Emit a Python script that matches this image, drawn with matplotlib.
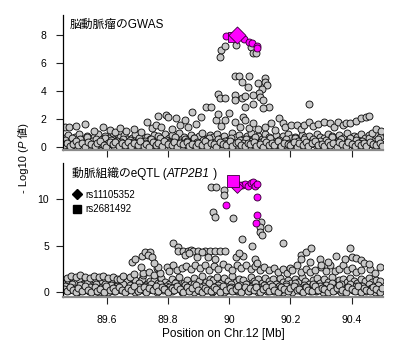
import numpy as np
import matplotlib.pyplot as plt
from matplotlib.lines import Line2D
from matplotlib.transforms import IdentityTransform

plt.rcParams['font.family'] = ['Liberation Sans', 'Noto Sans CJK JP']

# SNP positions on chr12 (Mb); both panels share the same markers
pos_a = [89.461, 89.470, 89.482, 89.489, 89.501, 89.508, 89.519, 89.531, 89.540, 89.548,
         89.561, 89.569, 89.580, 89.592, 89.599, 89.611, 89.620, 89.628, 89.641, 89.650,
         89.659, 89.671, 89.679, 89.690, 89.702, 89.709, 89.721, 89.730, 89.738, 89.751,
         89.760, 89.768, 89.781, 89.789, 89.800, 89.812, 89.819, 89.831, 89.840, 89.849,
         89.861, 89.869, 89.880, 89.892, 89.899, 89.910, 89.921, 89.929, 89.941, 89.950,
         89.958, 89.971, 89.979, 89.990, 90.002, 90.009, 90.021, 90.030, 90.038, 90.051,
         90.060, 90.068, 90.081, 90.089, 90.100, 90.112, 90.119, 90.131, 90.140, 90.148,
         90.161, 90.169, 90.180, 90.192, 90.199, 90.211, 90.220, 90.228, 90.241, 90.250,
         90.258, 90.271, 90.279, 90.290, 90.302, 90.309, 90.321, 90.330, 90.338, 90.351,
         90.360, 90.368, 90.381, 90.389, 90.400, 90.412, 90.419, 90.431, 90.440, 90.448,
         90.461, 90.469, 90.480, 90.492, 90.499]
pos_b = [89.466, 89.485, 89.505, 89.526, 89.545, 89.566, 89.585, 89.604, 89.625, 89.646,
         89.665, 89.684, 89.705, 89.725, 89.744, 89.765, 89.786, 89.805, 89.824, 89.845,
         89.866, 89.885, 89.904, 89.925, 89.946, 89.965, 89.984, 90.005, 90.025, 90.044,
         90.065, 90.086, 90.105, 90.124, 90.145, 90.166, 90.185, 90.204, 90.225, 90.246,
         90.265, 90.284, 90.305, 90.325, 90.344, 90.365, 90.386, 90.405, 90.424, 90.445,
         90.466, 90.485]
pos_c = [89.463, 89.474, 89.487, 89.497, 89.511, 89.523, 89.536, 89.547, 89.559, 89.572,
         89.584, 89.596, 89.607, 89.621, 89.633, 89.644, 89.657, 89.668, 89.682, 89.693,
         89.706, 89.717, 89.731, 89.742, 89.754, 89.767, 89.778, 89.791, 89.803, 89.815,
         89.827, 89.838, 89.852, 89.863, 89.876, 89.887, 89.901, 89.913, 89.924, 89.937,
         89.948, 89.961, 89.973, 89.984, 89.997, 90.008, 90.022, 90.033, 90.046, 90.057,
         90.071, 90.082, 90.094, 90.106, 90.118, 90.129, 90.143, 90.154, 90.166, 90.177,
         90.191, 90.202, 90.214, 90.226, 90.238, 90.249, 90.262, 90.274, 90.286, 90.297,
         90.311, 90.322, 90.335, 90.346, 90.358, 90.370, 90.383, 90.394, 90.407, 90.418,
         90.431, 90.443, 90.455, 90.467, 90.478, 90.491]
pos_d = [89.465, 89.476, 89.486, 89.495, 89.504, 89.514, 89.525, 89.535, 89.544, 89.554,
         89.565, 89.575, 89.584, 89.595, 89.605, 89.615, 89.624, 89.634, 89.645, 89.655,
         89.664, 89.675, 89.685, 89.694, 89.705, 89.715, 89.725, 89.735, 89.744, 89.755,
         89.765, 89.774, 89.785, 89.795, 89.805, 89.815, 89.825, 89.834, 89.845, 89.855,
         89.864, 89.875, 89.885, 89.895, 89.905, 89.915, 89.925, 89.934, 89.945, 89.955,
         89.964, 89.975, 89.985, 89.995, 90.005, 90.015, 90.025, 90.034, 90.045, 90.055,
         90.064, 90.075, 90.085, 90.095, 90.105, 90.115, 90.125, 90.134, 90.145, 90.155,
         90.164, 90.175, 90.185, 90.195, 90.205, 90.215, 90.225, 90.234, 90.245, 90.255,
         90.264, 90.275, 90.285, 90.295, 90.305, 90.315, 90.325, 90.334, 90.345, 90.355,
         90.364, 90.375, 90.385, 90.395, 90.405, 90.415, 90.425, 90.434, 90.445, 90.455,
         90.464, 90.475, 90.485, 90.495]

# -log10(P), cerebral aneurysm GWAS
gwas_a = [0.12, 0.31, 0.05, 0.22, 0.40, 0.15, 0.28, 0.03, 0.36, 0.18,
          0.08, 0.26, 0.43, 0.14, 0.02, 0.33, 0.20, 0.38, 0.07, 0.25,
          0.11, 0.35, 0.04, 0.29, 0.17, 0.41, 0.09, 0.24, 0.01, 0.37,
          0.16, 0.30, 0.06, 0.42, 0.21, 0.13, 0.34, 0.03, 0.27, 0.19,
          0.39, 0.10, 0.23, 0.05, 0.32, 0.15, 0.44, 0.08, 0.28, 0.18,
          0.02, 0.36, 0.21, 0.12, 0.40, 0.07, 0.26, 0.33, 0.14, 0.04,
          0.30, 0.19, 0.38, 0.09, 0.24, 0.02, 0.35, 0.16, 0.27, 0.11,
          0.42, 0.06, 0.31, 0.20, 0.13, 0.37, 0.03, 0.25, 0.17, 0.34,
          0.08, 0.29, 0.41, 0.12, 0.22, 0.05, 0.36, 0.15, 0.27, 0.01,
          0.33, 0.18, 0.10, 0.39, 0.23, 0.07, 0.30, 0.14, 0.26, 0.04,
          0.35, 0.19, 0.11, 0.28, 0.06]
gwas_b = [0.20, 0.06, 0.30, 0.14, 0.24, 0.02, 0.18, 0.27, 0.09, 0.33,
          0.15, 0.04, 0.22, 0.29, 0.11, 0.19, 0.01, 0.26, 0.13, 0.31,
          0.07, 0.23, 0.16, 0.34, 0.03, 0.21, 0.28, 0.10, 0.17, 0.25,
          0.05, 0.32, 0.12, 0.20, 0.27, 0.08, 0.15, 0.30, 0.02, 0.22,
          0.18, 0.26, 0.09, 0.13, 0.31, 0.04, 0.24, 0.16, 0.29, 0.07,
          0.21, 0.12]
gwas_c = [0.62, 0.85, 0.51, 0.74, 0.95, 0.58, 0.80, 0.47, 0.69, 0.90,
          0.55, 0.77, 0.64, 0.98, 0.49, 0.72, 0.86, 0.57, 0.66, 0.92,
          0.53, 0.81, 0.70, 0.60, 0.88, 0.75, 0.50, 0.96, 0.67, 0.83,
          0.59, 0.99, 0.73, 0.54, 0.89, 0.65, 0.78, 1.02, 0.56, 0.84,
          0.70, 0.93, 0.61, 0.79, 0.52, 0.97, 0.68, 0.87, 0.58, 0.76,
          1.00, 0.63, 0.82, 0.55, 0.91, 0.71, 0.60, 0.85, 0.48, 0.78,
          0.94, 0.66, 0.74, 0.57, 0.88, 0.69, 0.81, 0.53, 0.96, 0.72,
          0.62, 0.90, 0.77, 0.50, 0.86, 0.67, 0.98, 0.59, 0.80, 0.73,
          0.92, 0.64, 0.87, 0.55, 0.83, 0.70]
gwas_d = [0.48, 0.15, 0.62, 0.30, 0.05, 0.55, 0.22, 0.68, 0.10, 0.40,
          0.58, 0.02, 0.35, 0.65, 0.18, 0.50, 0.08, 0.44, 0.27, 0.60,
          0.12, 0.52, 0.38, 0.03, 0.66, 0.25, 0.46, 0.14, 0.57, 0.32,
          0.06, 0.63, 0.20, 0.49, 0.36, 0.11, 0.70, 0.28, 0.04, 0.54,
          0.42, 0.16, 0.61, 0.33, 0.09, 0.47, 0.24, 0.67, 0.01, 0.39,
          0.56, 0.19, 0.45, 0.13, 0.64, 0.31, 0.07, 0.51, 0.26, 0.59,
          0.17, 0.43, 0.69, 0.05, 0.37, 0.53, 0.21, 0.62, 0.10, 0.34,
          0.48, 0.02, 0.58, 0.29, 0.15, 0.66, 0.41, 0.08, 0.55, 0.23,
          0.36, 0.60, 0.12, 0.46, 0.04, 0.52, 0.27, 0.68, 0.18, 0.40,
          0.57, 0.09, 0.33, 0.64, 0.21, 0.49, 0.06, 0.44, 0.14, 0.61,
          0.30, 0.03, 0.54, 0.19]
gwas_hi = [(89.465, 1.45), (89.478, 1.42), (89.501, 1.50), (89.530, 1.64), (89.560, 1.15),
           (89.589, 1.45), (89.612, 1.20), (89.628, 1.08), (89.645, 1.33), (89.662, 1.12),
           (89.690, 1.25), (89.712, 1.10), (89.731, 1.81), (89.748, 1.38), (89.760, 1.60),
           (89.769, 2.20), (89.778, 1.45), (89.794, 2.29), (89.800, 2.17), (89.815, 1.30),
           (89.827, 2.05), (89.840, 1.55), (89.856, 1.93), (89.866, 1.40), (89.878, 2.52),
           (89.893, 1.62), (89.909, 2.17), (89.925, 2.88), (89.941, 2.83), (89.958, 1.93),
           (89.965, 2.36), (89.975, 1.50), (89.987, 1.93), (90.000, 2.40), (90.019, 1.81),
           (90.035, 1.45), (90.046, 2.17), (90.052, 1.93), (90.065, 1.35), (90.079, 1.69),
           (90.095, 1.25), (90.117, 1.45), (90.138, 1.69), (90.150, 1.20), (90.162, 2.05),
           (90.175, 1.72), (90.182, 1.40), (90.202, 1.57), (90.220, 1.57), (90.236, 1.30),
           (90.245, 1.55), (90.260, 1.81), (90.275, 1.48), (90.290, 1.64), (90.310, 1.81),
           (90.330, 1.74), (90.342, 1.40), (90.355, 1.81), (90.370, 1.55), (90.380, 1.69),
           (90.395, 1.74), (90.415, 1.88), (90.430, 2.05), (90.445, 2.17), (90.455, 2.20),
           (90.465, 1.02), (90.480, 1.25), (90.495, 1.15),
           (89.973, 6.93), (89.969, 6.45), (89.987, 7.20), (90.023, 7.29), (90.070, 7.17),
           (90.077, 6.69), (90.088, 6.69), (90.019, 5.07), (90.033, 5.07), (90.041, 4.67),
           (90.065, 5.07), (90.095, 4.55), (90.117, 4.90), (90.117, 4.67), (90.123, 4.43),
           (90.107, 4.12), (90.099, 3.83), (90.063, 4.26), (89.965, 3.79), (89.969, 3.48),
           (89.987, 3.48), (90.019, 3.71), (90.019, 3.36), (90.041, 3.48), (90.052, 3.66),
           (90.079, 3.71), (90.101, 3.60), (90.112, 3.36), (90.131, 2.88), (90.112, 2.76),
           (90.079, 3.07), (90.052, 2.88), (90.262, 3.07)]
gwas_ld = [(89.990, 7.90), (90.050, 7.70), (90.064, 7.50), (90.076, 7.40),
           (90.090, 7.24), (90.091, 7.05)]

# -log10(P), ATP2B1 eQTL in arterial tissue
eqtl_a = [0.35, 0.10, 0.62, 0.22, 0.05, 0.48, 0.15, 0.70, 0.28, 0.02,
          0.55, 0.18, 0.40, 0.08, 0.66, 0.25, 0.45, 0.12, 0.58, 0.30,
          0.04, 0.50, 0.20, 0.72, 0.14, 0.38, 0.60, 0.06, 0.44, 0.26,
          0.68, 0.10, 0.52, 0.32, 0.01, 0.46, 0.20, 0.64, 0.36, 0.08,
          0.56, 0.16, 0.42, 0.74, 0.24, 0.03, 0.50, 0.30, 0.12, 0.60,
          0.40, 0.06, 0.66, 0.22, 0.48, 0.14, 0.34, 0.70, 0.02, 0.54,
          0.18, 0.44, 0.28, 0.62, 0.08, 0.38, 0.52, 0.16, 0.72, 0.26,
          0.04, 0.58, 0.32, 0.12, 0.46, 0.68, 0.22, 0.40, 0.06, 0.56,
          0.30, 0.10, 0.64, 0.20, 0.50, 0.36, 0.02, 0.60, 0.14, 0.42,
          0.76, 0.24, 0.08, 0.54, 0.34, 0.18, 0.66, 0.04, 0.48, 0.28,
          0.12, 0.58, 0.38, 0.06, 0.44]
eqtl_b = [0.20, 0.45, 0.08, 0.30, 0.55, 0.15, 0.38, 0.02, 0.50, 0.25,
          0.10, 0.42, 0.60, 0.18, 0.33, 0.05, 0.48, 0.22, 0.58, 0.12,
          0.36, 0.03, 0.52, 0.28, 0.16, 0.44, 0.07, 0.62, 0.26, 0.40,
          0.14, 0.54, 0.32, 0.09, 0.47, 0.21, 0.64, 0.04, 0.37, 0.56,
          0.11, 0.30, 0.50, 0.19, 0.41, 0.06, 0.58, 0.24, 0.35, 0.13,
          0.46, 0.27]
eqtl_c = [0.95, 1.30, 0.85, 1.12, 1.45, 0.90, 1.22, 1.05, 1.38, 0.82,
          1.18, 1.50, 0.98, 1.28, 0.88, 1.40, 1.08, 1.25, 0.92, 1.35,
          1.02, 1.48, 0.86, 1.20, 1.32, 0.96, 1.55, 1.10, 0.84, 1.42,
          1.15, 1.60, 1.00, 1.36, 0.94, 1.52, 1.24, 1.70, 1.06, 1.44,
          1.30, 1.65, 0.98, 1.58, 1.20, 1.75, 1.12, 1.48, 1.34, 0.90,
          1.62, 1.26, 1.46, 1.04, 1.56, 1.18, 1.38, 0.88, 1.50, 1.14,
          1.28, 0.96, 1.44, 1.10, 1.60, 1.22, 0.86, 1.36, 1.52, 1.02,
          1.40, 1.16, 1.64, 0.92, 1.32, 1.48, 1.08, 1.56, 1.24, 0.98,
          1.42, 1.20, 1.58, 1.06, 1.34, 1.26]
eqtl_d = [0.70, 0.25, 0.90, 0.45, 0.08, 0.80, 0.35, 0.98, 0.15, 0.60,
          0.85, 0.05, 0.52, 0.94, 0.28, 0.74, 0.12, 0.65, 0.40, 0.88,
          0.18, 0.78, 0.55, 0.04, 0.96, 0.38, 0.68, 0.22, 0.84, 0.48,
          0.10, 0.92, 0.30, 0.72, 0.54, 0.16, 1.00, 0.42, 0.06, 0.80,
          0.62, 0.24, 0.90, 0.50, 0.14, 0.70, 0.36, 0.97, 0.02, 0.58,
          0.82, 0.28, 0.66, 0.20, 0.94, 0.46, 0.10, 0.76, 0.38, 0.86,
          0.26, 0.64, 0.99, 0.08, 0.55, 0.78, 0.32, 0.92, 0.15, 0.50,
          0.72, 0.03, 0.86, 0.44, 0.22, 0.96, 0.60, 0.12, 0.80, 0.34,
          0.54, 0.88, 0.18, 0.68, 0.06, 0.76, 0.40, 0.98, 0.26, 0.60,
          0.84, 0.14, 0.48, 0.94, 0.30, 0.72, 0.09, 0.65, 0.20, 0.90,
          0.44, 0.05, 0.80, 0.28]
eqtl_hi = [(89.470, 1.55), (89.485, 1.70), (89.500, 1.60), (89.515, 1.85), (89.530, 1.65),
           (89.545, 1.50), (89.560, 1.72), (89.575, 1.62), (89.590, 1.80), (89.605, 1.55),
           (89.620, 1.68), (89.635, 1.48), (89.645, 1.40), (89.655, 1.75), (89.677, 1.68),
           (89.690, 1.95), (89.718, 1.86), (89.720, 2.04), (89.740, 2.20), (89.755, 1.90),
           (89.764, 2.58), (89.775, 2.10), (89.796, 2.75), (89.805, 2.30), (89.818, 2.94),
           (89.830, 2.45), (89.845, 2.60), (89.860, 2.85), (89.875, 2.50), (89.890, 2.95),
           (89.905, 2.60), (89.920, 2.90), (89.935, 2.40), (89.950, 2.85), (89.965, 2.55),
           (89.980, 3.00), (89.995, 2.70), (90.010, 2.45), (90.025, 2.90), (90.040, 2.60),
           (90.055, 2.95), (90.070, 2.50), (90.085, 2.80), (90.100, 2.40), (90.115, 2.70),
           (90.130, 2.35), (90.145, 2.60), (90.160, 2.20), (90.175, 2.50), (90.190, 2.10),
           (90.200, 2.58), (90.205, 2.40), (90.220, 2.90), (90.235, 2.20), (90.250, 2.50),
           (90.265, 2.15), (90.280, 2.40), (90.300, 2.75), (90.315, 2.25), (90.330, 2.90),
           (90.345, 2.30), (90.360, 2.55), (90.370, 2.90), (90.385, 2.35), (90.400, 2.60),
           (90.415, 2.20), (90.430, 2.45), (90.460, 2.50), (90.475, 2.10), (90.492, 2.75),
           (89.682, 3.29), (89.693, 3.55), (89.715, 3.90), (89.726, 4.37), (89.742, 4.37),
           (89.735, 4.05), (89.748, 3.80), (89.711, 2.75), (89.769, 2.75), (89.755, 3.12),
           (89.818, 5.27), (89.834, 4.84), (89.834, 4.47), (89.850, 4.47), (89.866, 4.47),
           (89.876, 4.55), (89.883, 4.40), (89.899, 4.47), (89.922, 4.47), (89.938, 4.47),
           (89.955, 4.47), (89.971, 4.47), (89.987, 4.47), (89.856, 4.00), (89.894, 3.83),
           (89.870, 4.27), (89.910, 4.30), (89.932, 3.76), (89.955, 3.55),
           (90.176, 5.33), (90.236, 4.01), (90.252, 4.37), (90.268, 4.73), (90.236, 3.55),
           (90.263, 3.29), (90.295, 3.55), (90.322, 3.29), (90.350, 3.90), (90.377, 3.55),
           (90.395, 4.73), (90.400, 3.83), (90.415, 3.66), (90.430, 3.47), (90.440, 3.20),
           (90.300, 2.95), (90.455, 3.00),
           (89.941, 11.36), (89.958, 11.29), (89.983, 11.00), (89.984, 10.46), (89.947, 8.67),
           (89.955, 8.06), (90.013, 7.96), (90.105, 7.59), (90.100, 7.05), (90.128, 6.88),
           (90.101, 6.52), (90.106, 6.16), (90.043, 5.70), (90.075, 4.98), (90.023, 3.76),
           (90.044, 3.90), (90.083, 3.55), (90.031, 4.26), (90.090, 3.12)]
eqtl_ld = [(90.041, 11.50), (90.052, 11.60), (90.060, 11.46), (90.070, 11.70),
           (90.079, 11.90), (90.085, 11.46), (90.090, 11.60), (90.090, 10.28),
           (89.990, 9.39), (90.090, 8.31), (90.087, 7.42), (90.033, 11.55)]

# lead SNPs (position, GWAS, eQTL)
snp_diamond = (90.026, 8.00, 11.30)   # rs11105352
snp_square = (90.012, 7.85, 12.00)    # rs2681492

ticks_x = [89.6, 89.8, 90.0, 90.2, 90.4]
ticks_x_labels = ['89.6', '89.8', '90', '90.2', '90.4']

GREY = '#c8c8c8'
EDGE = '#111111'
MAG = '#ff00ff'


def draw_runs(fig, x, y, runs, size, rotation=0):
    # draw text pieces one after another starting at pixel (x, y);
    # each piece's advance is measured on an unrotated copy
    renderer = fig.canvas.get_renderer()
    for text, style in runs:
        probe = fig.text(0, 0, text, transform=IdentityTransform(), fontsize=size, style=style)
        w = probe.get_window_extent(renderer).width
        probe.remove()
        fig.text(x, y, text, transform=IdentityTransform(), fontsize=size,
                 style=style, rotation=rotation, rotation_mode='anchor',
                 ha='left', va='baseline')
        if rotation:
            y += w
        else:
            x += w


def panel(ax, layers, hi, ld, ylim, yticks):
    for xs, ys in layers:
        ax.scatter(xs, ys, s=25, c=GREY, edgecolors=EDGE, linewidths=0.65, zorder=2)
    hx, hy = np.array(hi).T
    ax.scatter(hx, hy, s=25, c=GREY, edgecolors=EDGE, linewidths=0.65, zorder=2)
    lx, ly = np.array(ld).T
    ax.scatter(lx, ly, s=25, c=MAG, edgecolors='#3a003a', linewidths=0.65, zorder=3)

    ax.set_xlim(89.458, 90.502)
    ax.set_ylim(*ylim)
    ax.set_yticks(yticks)
    ax.set_xticks(ticks_x)
    for s in ['top', 'right']:
        ax.spines[s].set_visible(False)
    ax.spines['left'].set_linewidth(0.9)
    ax.spines['bottom'].set_color('#8a8a8a')
    ax.spines['bottom'].set_linewidth(1.6)
    ax.tick_params(length=5, width=0.8, labelsize=7.5, color='#222222')


fig = plt.figure(figsize=(4, 3.44), dpi=100)
ax1 = fig.add_axes([0.1575, 0.564, 0.8, 0.3924])
ax2 = fig.add_axes([0.1575, 0.1366, 0.8, 0.3895])

panel(ax1, [(pos_c, gwas_c), (pos_d, gwas_d), (pos_b, gwas_b), (pos_a, gwas_a)],
      gwas_hi, gwas_ld, (-0.214, 9.43), [0, 2, 4, 6, 8])
ax1.scatter([snp_square[0]], [snp_square[1]], marker='s', s=45, c=MAG,
            edgecolors='#3a003a', linewidths=0.6, zorder=4)
ax1.scatter([snp_diamond[0]], [snp_diamond[1]], marker='D', s=75, c=MAG,
            edgecolors='#3a003a', linewidths=0.6, zorder=5)
ax1.set_xticklabels([])
ax1.tick_params(axis='y', pad=7)

panel(ax2, [(pos_c, eqtl_c), (pos_d, eqtl_d), (pos_b, eqtl_b), (pos_a, eqtl_a)],
      eqtl_hi, eqtl_ld, (-0.505, 13.9), [0, 5, 10])
ax2.scatter([snp_diamond[0]], [snp_diamond[2]], marker='D', s=36, c=MAG,
            edgecolors='#3a003a', linewidths=0.6, zorder=4)
ax2.scatter([snp_square[0]], [snp_square[2]], marker='s', s=75, c=MAG,
            edgecolors='#3a003a', linewidths=0.6, zorder=5)
ax2.set_xticklabels(ticks_x_labels)
ax2.tick_params(axis='x', pad=8)
ax2.tick_params(axis='y', pad=5)
ax2.set_xlabel('Position on Chr.12 [Mb]', fontsize=8.5, labelpad=2)

handles = [Line2D([], [], ls='none', marker='D', ms=5.5, color='black'),
           Line2D([], [], ls='none', marker='s', ms=6, color='black')]
ax2.legend(handles, ['rs11105352', 'rs2681492'], loc='upper left',
           bbox_to_anchor=(0.02, 0.83), frameon=False, fontsize=7,
           handlelength=0.8, handletextpad=0.4, labelspacing=0.45, borderaxespad=0)

fig.text(70 / 400, 1 - 25 / 344, '脳動脈瘤のGWAS', fontsize=8.5, va='center', ha='left')
draw_runs(fig, 72, 344 - 177, [('動脈組織のeQTL (', 'normal'), ('ATP2B1', 'italic'),
                               (' )', 'normal')], 8.5)
draw_runs(fig, 27, 344 - 193, [('- Log10 (', 'normal'), ('P', 'italic'),
                               (' 値)', 'normal')], 8, rotation=90)

fig.savefig('out.png', dpi=100)
